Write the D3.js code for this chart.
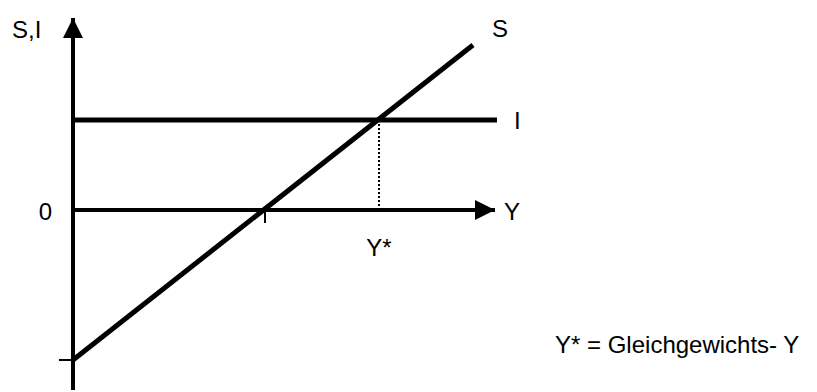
<!DOCTYPE html>
<html>
<head>
<meta charset="utf-8">
<script src="https://cdn.jsdelivr.net/npm/d3@7"></script>
<style>
  body { margin: 0; background: #fff; }
  text { font-family: "Liberation Sans", Arial, sans-serif; fill: #000; }
</style>
</head>
<body>
<svg id="siChart" width="817" height="392"></svg>
<script>
// income Y (x) and saving / investment (y) in model units
const sLine = [[0, -50], [100, 55]];   // saving function endpoints
const investment = 30;                  // autonomous investment I
const yZeroSaving = 48;                 // Y where S = 0
const yStar = 76.5;                     // equilibrium income, S = I
const xAxisMax = 105.5;
const yAxisRange = [-60, 64];
const sTick = -50;

const svg = d3.select("#siChart");

const x = d3.scaleLinear().domain([0, 100]).range([73, 473]);
const y = d3.scaleLinear().domain([0, 30]).range([210, 120]);

const defs = svg.append("defs");
defs.append("marker")
  .attr("id", "arrow")
  .attr("viewBox", "0 0 10 10")
  .attr("refX", 10).attr("refY", 5)
  .attr("markerUnits", "userSpaceOnUse")
  .attr("markerWidth", 20).attr("markerHeight", 20)
  .attr("orient", "auto")
  .append("path")
  .attr("d", "M0,0 L10,5 L0,10 Z")
  .attr("fill", "#000");

// vertical axis
svg.append("line")
  .attr("x1", x(0)).attr("x2", x(0))
  .attr("y1", y(yAxisRange[0])).attr("y2", y(yAxisRange[1]))
  .attr("stroke", "#000").attr("stroke-width", 4)
  .attr("marker-end", "url(#arrow)");

// horizontal axis
svg.append("line")
  .attr("x1", x(0)).attr("x2", x(xAxisMax))
  .attr("y1", y(0)).attr("y2", y(0))
  .attr("stroke", "#000").attr("stroke-width", 4)
  .attr("marker-end", "url(#arrow)");

// investment line
svg.append("line")
  .attr("x1", x(0)).attr("x2", x(106))
  .attr("y1", y(investment)).attr("y2", y(investment))
  .attr("stroke", "#000").attr("stroke-width", 5);

// saving line
svg.append("path")
  .datum(sLine)
  .attr("d", d3.line().x(d => x(d[0])).y(d => y(d[1])))
  .attr("stroke", "#000").attr("stroke-width", 5).attr("fill", "none");

// ticks
svg.append("line")
  .attr("x1", x(yZeroSaving)).attr("x2", x(yZeroSaving))
  .attr("y1", y(0)).attr("y2", y(0) + 13)
  .attr("stroke", "#000").attr("stroke-width", 2);
svg.append("line")
  .attr("x1", x(0) - 14).attr("x2", x(0))
  .attr("y1", y(sTick)).attr("y2", y(sTick))
  .attr("stroke", "#000").attr("stroke-width", 2);

// dotted drop line at equilibrium
svg.append("line")
  .attr("x1", x(yStar)).attr("x2", x(yStar))
  .attr("y1", y(investment)).attr("y2", y(0))
  .attr("stroke", "#000").attr("stroke-width", 2)
  .attr("stroke-dasharray", "2,2");

const fs = 24;
svg.append("text").attr("x", 12).attr("y", 38).attr("font-size", fs).text("S,I");
svg.append("text").attr("x", 52).attr("y", 220).attr("font-size", fs)
  .attr("text-anchor", "end").text("0");
svg.append("text").attr("x", 504).attr("y", 220).attr("font-size", fs).text("Y");
svg.append("text").attr("x", 514).attr("y", 129).attr("font-size", fs).text("I");
svg.append("text").attr("x", 492).attr("y", 37).attr("font-size", fs).text("S");
svg.append("text").attr("x", x(yStar)).attr("y", 256).attr("font-size", fs)
  .attr("text-anchor", "middle").text("Y*");
svg.append("text").attr("x", 555).attr("y", 353).attr("font-size", fs)
  .text("Y* = Gleichgewichts- Y");
</script>
</body>
</html>
